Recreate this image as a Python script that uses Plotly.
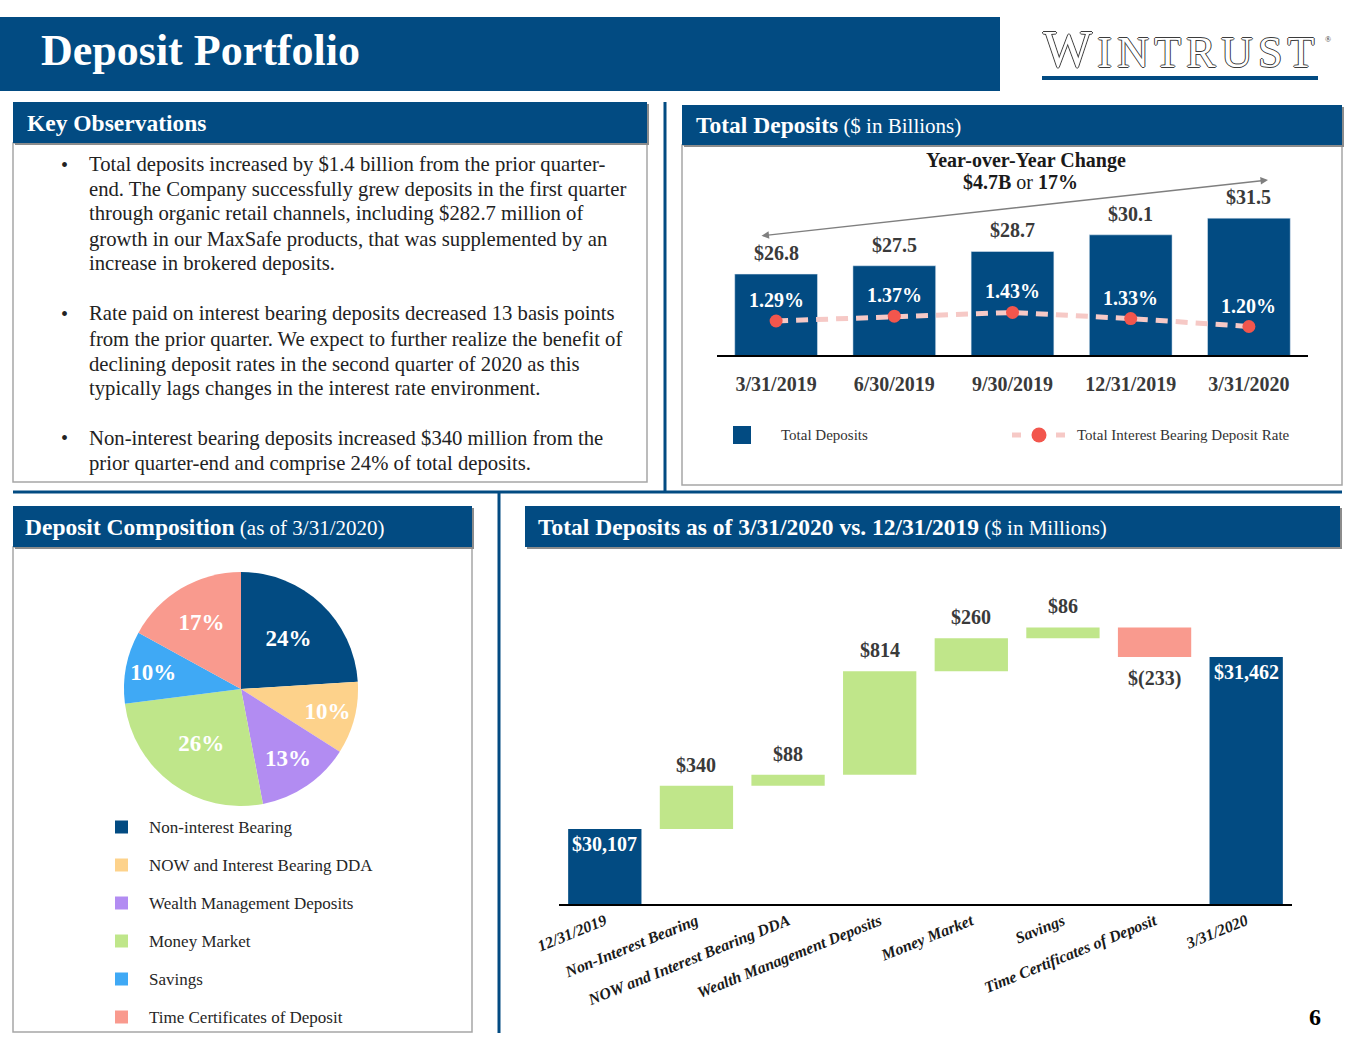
import plotly.graph_objects as go

W, H = 1365, 1055
def X(p): return p / W
def Y(p): return 1 - p / H

NAVY = "#024b82"
SERIF = "Liberation Serif, Times New Roman, serif"
DARK = "#3a3a3a"
PINK = "#f6c9c6"
CORAL = "#f2564d"

# ---------------- data ----------------
quarters = ["3/31/2019", "6/30/2019", "9/30/2019", "12/31/2019", "3/31/2020"]
total_deposits = [26.8, 27.5, 28.7, 30.1, 31.5]
deposit_labels = ["$26.8", "$27.5", "$28.7", "$30.1", "$31.5"]
ib_rate = [1.29, 1.37, 1.43, 1.33, 1.20]
rate_labels = ["1.29%", "1.37%", "1.43%", "1.33%", "1.20%"]

comp_labels = ["Non-interest Bearing", "NOW and Interest Bearing DDA",
               "Wealth Management Deposits", "Money Market", "Savings",
               "Time Certificates of Deposit"]
comp_pct = [24, 10, 13, 26, 10, 17]
comp_colors = ["#024b82", "#fdd28b", "#b28cf2", "#bfe68a", "#3fa9f5", "#f99a8e"]

wf_categories = ["12/31/2019", "Non-Interest Bearing", "NOW and Interest Bearing DDA",
                 "Wealth Management Deposits", "Money Market", "Savings",
                 "Time Certificates of Deposit", "3/31/2020"]
wf_values = [30107, 340, 88, 814, 260, 86, -233, 31462]
wf_measure = ["absolute", "relative", "relative", "relative", "relative",
              "relative", "relative", "total"]
wf_labels = ["$30,107", "$340", "$88", "$814", "$260", "$86", "$(233)", "$31,462"]

key_obs = [
    ["Total deposits increased by $1.4 billion from the prior quarter-",
     "end. The Company successfully grew deposits in the first quarter",
     "through organic retail channels, including $282.7 million of",
     "growth in our MaxSafe products, that was supplemented by an",
     "increase in brokered deposits."],
    ["Rate paid on interest bearing deposits decreased 13 basis points",
     "from the prior quarter. We expect to further realize the benefit of",
     "declining deposit rates in the second quarter of 2020 as this",
     "typically lags changes in the interest rate environment."],
    ["Non-interest bearing deposits increased $340 million from the",
     "prior quarter-end and comprise 24% of total deposits."],
]
key_obs_y = [[165, 190, 214, 239, 264], [314, 339, 364, 388], [438, 463]]

fig = go.Figure()

# ---------------- top chart: total deposits ----------------
fig.add_trace(go.Bar(
    x=quarters, y=total_deposits, name="Total Deposits",
    marker=dict(color=NAVY), xaxis="x", yaxis="y", showlegend=False,
    hoverinfo="x+y"))
fig.add_trace(go.Scatter(
    x=quarters, y=ib_rate, name="Total Interest Bearing Deposit Rate",
    mode="lines+markers", xaxis="x", yaxis="y2", showlegend=False,
    line=dict(color=PINK, width=5, dash="12px,8px"),
    marker=dict(color=CORAL, size=13)))

annos = []
for q, v, t in zip(quarters, total_deposits, deposit_labels):
    annos.append(dict(x=q, y=v, xref="x", yref="y", yshift=21, text=t,
                      showarrow=False, font=dict(family=SERIF, size=20, color=DARK, weight="bold")))
for q, v, t in zip(quarters, ib_rate, rate_labels):
    annos.append(dict(x=q, y=v, xref="x", yref="y2", yshift=21, text=t,
                      showarrow=False, font=dict(family=SERIF, size=20, color="white", weight="bold")))

# ---------------- pie ----------------
fig.add_trace(go.Pie(
    labels=comp_labels, values=comp_pct, sort=False, direction="clockwise",
    rotation=0, marker=dict(colors=comp_colors, line=dict(width=0)),
    texttemplate="%{value}%", textposition="inside",
    insidetextorientation="horizontal",
    textfont=dict(family=SERIF, size=23, color="white", weight="bold"),
    domain=dict(x=[X(124), X(358)], y=[Y(806), Y(572)]),
    showlegend=False, hoverinfo="label+percent"))

# ---------------- waterfall ----------------
fig.add_trace(go.Waterfall(
    x=wf_categories, y=wf_values, measure=wf_measure, xaxis="x2", yaxis="y3",
    increasing=dict(marker=dict(color="#c0e68a")),
    decreasing=dict(marker=dict(color="#f99a8e")),
    totals=dict(marker=dict(color=NAVY)),
    connector=dict(visible=False), showlegend=False))

running = 0
for cat, v, m, t in zip(wf_categories, wf_values, wf_measure, wf_labels):
    if m in ("absolute", "total"):
        running = v
        annos.append(dict(x=cat, y=v, xref="x2", yref="y3", yshift=-15, text=t,
                          showarrow=False, font=dict(family=SERIF, size=20, color="white", weight="bold")))
    else:
        end = running + v
        running = end
        annos.append(dict(x=cat, y=end, xref="x2", yref="y3", yshift=21 if v >= 0 else -21, text=t,
                          showarrow=False, font=dict(family=SERIF, size=20, color=DARK, weight="bold")))

# ---------------- slide furniture ----------------
shapes = []
def rect(x0, y0, x1, y1, fill=None, line=None, lw=0, layer="below"):
    shapes.append(dict(type="rect", xref="paper", yref="paper", x0=X(x0), x1=X(x1),
                       y0=Y(y1), y1=Y(y0), fillcolor=fill if fill else "rgba(0,0,0,0)",
                       line=dict(color=line if line else "rgba(0,0,0,0)", width=lw), layer=layer))
def seg(x0, y0, x1, y1, color, lw, layer="below"):
    shapes.append(dict(type="line", xref="paper", yref="paper", x0=X(x0), x1=X(x1),
                       y0=Y(y0), y1=Y(y1), line=dict(color=color, width=lw), layer=layer))

rect(0, 17, 1000, 91, NAVY)
rect(1042, 76, 1318, 80, NAVY)
# content boxes
rect(13, 143, 647, 482, None, "#a6a6a6", 1.5)
rect(682, 145, 1342, 485, None, "#a6a6a6", 1.5)
rect(13, 547, 472, 1032, None, "#a6a6a6", 1.5)
# headers with shadow
for (a, b, c, d) in [(13, 102, 647, 143), (682, 105, 1342, 145), (13, 506, 472, 547), (525, 506, 1340, 547)]:
    rect(a + 2, b + 2, c + 2, d + 2, "#8c8c8c")
    rect(a, b, c, d, NAVY)
# dividers
seg(665, 102, 665, 492, NAVY, 3)
seg(13, 492, 1342, 492, NAVY, 3)
seg(499, 492, 499, 1033, NAVY, 3)

def text(x, y, t, size, color="white", bold=False, xanchor="left", style="normal", shadow="none"):
    annos.append(dict(x=X(x), y=Y(y), xref="paper", yref="paper", text=t, showarrow=False,
                      xanchor=xanchor, yanchor="middle",
                      font=dict(family=SERIF, size=size, color=color,
                                weight="bold" if bold else "normal", style=style, shadow=shadow)))

text(39, 50, "Deposit Portfolio", 44, bold=True)
HS = "<span style='font-size:26px'>\u2009</span>"
logo = "<span style='font-size:52px'>W</span>" + HS + HS.join("INTRUST")
text(1179, 49, logo, 44, color="white", xanchor="center",
     shadow="1px 0 0 #3c3c3c, -1px 0 0 #3c3c3c, 0 1px 0 #3c3c3c, 0 -1px 0 #3c3c3c")
text(1323, 40, "®", 8, color="#333333")
text(25, 123, "Key Observations", 23.5, bold=True)
text(694, 125, "<b>Total Deposits</b><span style='font-size:21px'> ($ in Billions)</span>", 23.5)
text(23, 527, "<b>Deposit Composition</b><span style='font-size:21px'> (as of 3/31/2020)</span>", 23.5)
text(536, 527, "<b>Total Deposits as of 3/31/2020 vs. 12/31/2019</b><span style='font-size:21px'> ($ in Millions)</span>", 23.5)
text(1315, 1017, "6", 24, color="black", bold=True, xanchor="center")

# key observations body
for para, ys in zip(key_obs, key_obs_y):
    text(59, ys[0], "•", 20, color="#222222")
    for line, yy in zip(para, ys):
        text(87, yy, line, 20.7, color="#222222")

# YoY annotation
text(1026, 160, "Year-over-Year Change", 20, color="#1a1a1a", bold=True, xanchor="center")
text(1020, 182, "<b>$4.7B</b> or <b>17%</b>", 20, color="#1a1a1a", xanchor="center")
annos.append(dict(x=X(1268), y=Y(180), ax=760 - 1268, ay=236 - 180, xref="paper", yref="paper",
                  axref="pixel", ayref="pixel", showarrow=True, arrowhead=2, startarrowhead=2,
                  arrowside="end+start", arrowsize=1, arrowwidth=1.5, arrowcolor="#7f7f7f", text=""))

# top chart legend (drawn)
rect(733, 426, 751, 444, NAVY, layer="above")
text(779, 435, "Total Deposits", 15, color="#333333")
seg(1012, 435, 1021, 435, PINK, 5, layer="above")
seg(1056, 435, 1065, 435, PINK, 5, layer="above")
shapes.append(dict(type="circle", xref="paper", yref="paper", x0=X(1031.5), x1=X(1046.5),
                   y0=Y(442.5), y1=Y(427.5), fillcolor=CORAL, line=dict(width=0), layer="above"))
text(1075, 435, "Total Interest Bearing Deposit Rate", 15, color="#333333")

# pie legend (drawn)
for i, (lab, col) in enumerate(zip(comp_labels, comp_colors)):
    yy = 827 + 38 * i
    rect(115, yy - 6.5, 128, yy + 6.5, col)
    text(147, yy, lab, 17, color="#262626")

fig.update_layout(
    width=W, height=H, margin=dict(l=0, r=0, t=0, b=0, autoexpand=False),
    paper_bgcolor="white", plot_bgcolor="white",
    font=dict(family=SERIF),
    bargap=0.3, showlegend=False,
    xaxis=dict(domain=[X(717), X(1308)], showline=True, linecolor="black", linewidth=1.5,
               showgrid=False, ticks="", ticklabelstandoff=10, automargin=False,
               tickfont=dict(family=SERIF, size=20, color=DARK, weight="bold"), fixedrange=True),
    yaxis=dict(domain=[Y(355), Y(150)], range=[20, 37.23], visible=False, fixedrange=True,
               automargin=False),
    yaxis2=dict(overlaying="y", range=[0.733, 4.093], visible=False, fixedrange=True,
                automargin=False),
    xaxis2=dict(domain=[X(559), X(1292)], anchor="y3", showline=True, linecolor="black",
                linewidth=1.5, showgrid=False, ticks="", tickangle=-22, ticklabelstandoff=0,
                automargin=False,
                tickfont=dict(family=SERIF, size=16, color="#1a1a1a", weight="bold", style="italic"),
                fixedrange=True),
    yaxis3=dict(domain=[Y(904), Y(590)], anchor="x2", range=[29516, 31990], visible=False,
                fixedrange=True, automargin=False),
    shapes=shapes, annotations=annos,
)

fig.write_html("out.html", config={"displayModeBar": False},
               post_script="document.body.style.margin='0';document.body.style.overflow='hidden';")
